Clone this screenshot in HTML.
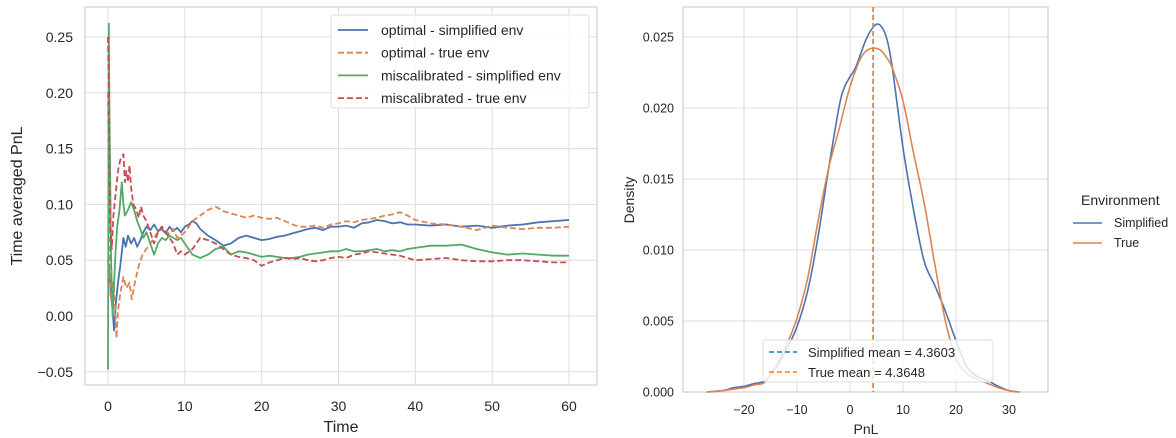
<!DOCTYPE html>
<html><head><meta charset="utf-8"><style>
body{margin:0;background:#fff;}
svg{display:block;font-family:"Liberation Sans",Arial,sans-serif;}
</style></head><body>
<svg id="c" width="1176" height="438" viewBox="0 0 1176 438"></svg>
<script>
// ---- Left chart data ----
const blueT=[0,0.2,0.4,0.6,0.8,1.0,1.3,1.6,2.0,2.3,2.6,3.0,3.4,3.8,4.2,4.6,5,5.5,6,6.5,7,7.5,8,8.5,9,9.5,10,10.5,11,11.5,12,13,14,15,16,17,18,19,20,21,22,23,24,25,26,27,28,29,30,31,32,33,34,35,36,37,38,39,40,42,44,46,48,50,52,54,56,58,60];
const blueV=[0.05,0.035,0.02,0.005,-0.013,0.01,0.03,0.045,0.07,0.062,0.072,0.065,0.07,0.062,0.068,0.075,0.08,0.077,0.082,0.076,0.078,0.074,0.08,0.076,0.079,0.075,0.08,0.082,0.085,0.083,0.078,0.072,0.068,0.063,0.065,0.07,0.072,0.07,0.068,0.069,0.071,0.072,0.074,0.076,0.078,0.079,0.077,0.08,0.08,0.081,0.079,0.083,0.084,0.086,0.085,0.083,0.084,0.082,0.082,0.081,0.082,0.08,0.081,0.079,0.081,0.082,0.084,0.085,0.086];
const orangeT=[0,0.1,0.3,0.5,0.7,0.9,1.1,1.3,1.6,2.0,2.4,2.8,3.1,3.5,4,4.5,5,5.5,6,6.5,7,7.5,8,8.5,9,9.5,10,11,12,13,14,15,16,17,18,19,20,21,22,23,24,25,26,27,28,29,30,31,32,33,34,35,36,37,38,39,40,42,44,46,48,50,52,54,56,58,60];
const orangeV=[0.2,0.12,0.02,0.012,0.03,0.01,-0.02,0.005,0.02,0.035,0.025,0.03,0.015,0.03,0.045,0.055,0.06,0.065,0.07,0.075,0.08,0.077,0.073,0.078,0.07,0.072,0.075,0.085,0.09,0.095,0.098,0.094,0.092,0.09,0.088,0.09,0.088,0.087,0.088,0.085,0.082,0.08,0.08,0.081,0.079,0.082,0.083,0.085,0.084,0.086,0.087,0.088,0.09,0.091,0.093,0.09,0.086,0.083,0.082,0.08,0.077,0.081,0.079,0.078,0.079,0.079,0.08];
const greenT=[0,0.1,0.2,0.4,0.6,0.8,1.0,1.2,1.5,1.8,2.0,2.2,2.6,3.0,3.4,3.8,4.2,4.6,5,5.5,6,6.5,7,7.5,8,8.5,9,9.5,10,11,12,13,14,15,16,17,18,19,20,21,22,23,24,25,26,27,28,29,30,31,32,33,34,35,36,37,38,39,40,42,44,46,48,50,52,54,56,58,60];
const greenV=[-0.048,0.262,0.18,0.05,0.0,0.03,0.06,0.08,0.095,0.12,0.1,0.09,0.095,0.102,0.095,0.085,0.078,0.07,0.075,0.065,0.055,0.065,0.07,0.068,0.072,0.07,0.068,0.07,0.065,0.055,0.052,0.055,0.06,0.062,0.055,0.058,0.057,0.055,0.053,0.054,0.053,0.052,0.052,0.053,0.055,0.056,0.057,0.058,0.058,0.06,0.058,0.058,0.059,0.06,0.058,0.059,0.058,0.06,0.061,0.063,0.063,0.064,0.06,0.057,0.055,0.056,0.055,0.054,0.054];
const redT=[0,0.1,0.2,0.3,0.5,0.7,1.0,1.3,1.6,2.0,2.2,2.4,2.6,2.8,3.0,3.3,3.7,4.0,4.3,4.6,5,5.5,6,6.5,7,7.5,8,8.5,9,9.5,10,11,12,13,14,15,16,17,18,19,20,21,22,23,24,25,26,27,28,29,30,31,32,33,34,35,36,37,38,39,40,42,44,46,48,50,52,54,56,58,60];
const redV=[0.25,0.2,0.13,0.08,0.06,0.09,0.11,0.13,0.14,0.145,0.12,0.13,0.12,0.135,0.115,0.1,0.095,0.088,0.098,0.09,0.085,0.075,0.065,0.075,0.08,0.075,0.07,0.065,0.055,0.058,0.055,0.06,0.07,0.068,0.065,0.06,0.055,0.053,0.052,0.05,0.045,0.048,0.05,0.052,0.051,0.052,0.05,0.049,0.05,0.052,0.053,0.052,0.055,0.056,0.058,0.057,0.056,0.055,0.054,0.052,0.05,0.051,0.052,0.05,0.049,0.049,0.05,0.05,0.049,0.048,0.048];
const leftXTicks=[0,10,20,30,40,50,60];
const leftYTicks=[-0.05,0,0.05,0.10,0.15,0.20,0.25];
const leftYLabels=["\u22120.05","0.00","0.05","0.10","0.15","0.20","0.25"];
const leftLegend=["optimal - simplified env","optimal - true env","miscalibrated - simplified env","miscalibrated - true env"];
// ---- Right chart data ----
const kdeX=[-27,-24,-22,-20,-18,-16,-14,-12,-10,-8,-6,-4,-2,-1,0,1,2,3,4,5,6,7,8,10,12,14,16,18,20,22,24,26,28,30,32];
const simpVals=[0,0.0001,0.0003,0.0004,0.0006,0.0008,0.0017,0.003,0.0046,0.0071,0.011,0.0158,0.0202,0.0215,0.0222,0.0228,0.0238,0.0248,0.0255,0.0259,0.0257,0.0248,0.0228,0.0172,0.0128,0.0092,0.0075,0.0057,0.0036,0.0018,0.0011,0.0008,0.0004,0.0001,0];
const trueVals=[0,0.0001,0.0002,0.0003,0.0005,0.0007,0.0018,0.0033,0.0052,0.008,0.0121,0.0158,0.0186,0.0201,0.0215,0.0226,0.0235,0.024,0.0242,0.0242,0.024,0.0235,0.0228,0.0205,0.0168,0.0133,0.009,0.005,0.0024,0.0013,0.0009,0.0006,0.0003,0.0001,0];
const rightXTicks=[-20,-10,0,10,20,30];
const rightYTicks=[0,0.005,0.010,0.015,0.020,0.025];
const meanSimp=4.3603, meanTrue=4.3648;

const svg=document.getElementById('c');
const NS='http://www.w3.org/2000/svg';
function mk(tag,attrs,parent){const e=document.createElementNS(NS,tag);for(const k in attrs)e.setAttribute(k,attrs[k]);(parent||svg).appendChild(e);return e;}
function txt(s,attrs,parent){const e=mk('text',attrs,parent);e.textContent=s;return e;}

// Left axes
const L={x0:85,x1:597,y0:7,y1:385};
const lx=v=>108+v*(569-108)/60;
const ly=v=>316-v*(316-37)/0.25;
const gL=mk('g',{});


leftXTicks.forEach(t=>{
  const l=mk('line',{x1:lx(t),x2:lx(t),y1:L.y0,y2:L.y1,stroke:'#dcdcdc','stroke-width':1},gL);
  
  const tx=txt(String(t),{x:lx(t),y:411,'text-anchor':'middle','font-size':14,fill:'#262626'},gL);
  
});
leftYTicks.forEach((t,i)=>{
  const l=mk('line',{x1:L.x0,x2:L.x1,y1:ly(t),y2:ly(t),stroke:'#dcdcdc','stroke-width':1},gL);
  
  const tx=txt(leftYLabels[i],{x:73,y:ly(t)+5,'text-anchor':'end','font-size':14,fill:'#262626'},gL);
  
});
const fL=mk('rect',{x:L.x0,y:L.y0,width:L.x1-L.x0,height:L.y1-L.y0,fill:'none',stroke:'#cfcfcf','stroke-width':1.2},gL);

const xt=txt('Time',{x:341,y:432,'text-anchor':'middle','font-size':16,fill:'#262626'},gL);

const yt=txt('Time averaged PnL',{x:0,y:0,transform:'translate(22,196) rotate(-90)','text-anchor':'middle','font-size':16,fill:'#262626'},gL);


const series=[
  {T:blueT,V:blueV,c:'#4c72b0',d:'',n:'line-optimal-simplified'},
  {T:orangeT,V:orangeV,c:'#dd8452',d:'6,3',n:'line-optimal-true'},
  {T:greenT,V:greenV,c:'#55a868',d:'',n:'line-miscalibrated-simplified'},
  {T:redT,V:redV,c:'#c44e52',d:'6,3',n:'line-miscalibrated-true'}];
series.forEach(s=>{
  const pts=s.T.map((t,i)=>lx(t).toFixed(1)+','+ly(s.V[i]).toFixed(1)).join(' ');
  const p=mk('polyline',{points:pts,fill:'none',stroke:s.c,'stroke-width':1.8,'stroke-dasharray':s.d,'stroke-linejoin':'round'},gL);
  
});
// left legend
const lg=mk('g',{},gL);

mk('rect',{x:331,y:15,width:258,height:93,rx:3,fill:'#fff','fill-opacity':0.85,stroke:'#dcdcdc'},lg);
series.forEach((s,i)=>{
  const y=30+i*22.7;
  const g=mk('g',{},lg);
  
  mk('line',{x1:338,x2:368,y1:y,y2:y,stroke:s.c,'stroke-width':1.8,'stroke-dasharray':s.d},g);
  txt(leftLegend[i],{x:381,y:y+5,'font-size':14,fill:'#262626'},g);
});

// Right axes
const R={x0:683,x1:1048,y0:7,y1:392};
const rx=v=>850+v*5.3;
const ry=v=>392-v*(392-37)/0.025;
const gR=mk('g',{});


rightXTicks.forEach(t=>{
  const l=mk('line',{x1:rx(t),x2:rx(t),y1:R.y0,y2:R.y1,stroke:'#dcdcdc','stroke-width':1},gR);
  
  const tx=txt(t<0?'\u2212'+(-t):String(t),{x:rx(t),y:414,'text-anchor':'middle','font-size':12.5,fill:'#262626'},gR);
  
});
rightYTicks.forEach(t=>{
  const l=mk('line',{x1:R.x0,x2:R.x1,y1:ry(t),y2:ry(t),stroke:'#dcdcdc','stroke-width':1},gR);
  
  const tx=txt(t.toFixed(3),{x:674,y:ry(t)+4.5,'text-anchor':'end','font-size':12.5,fill:'#262626'},gR);
  
});
const fR=mk('rect',{x:R.x0,y:R.y0,width:R.x1-R.x0,height:R.y1-R.y0,fill:'none',stroke:'#cfcfcf','stroke-width':1.2},gR);

const xt2=txt('PnL',{x:866,y:434,'text-anchor':'middle','font-size':14,fill:'#262626'},gR);

const yt2=txt('Density',{x:0,y:0,transform:'translate(634,200) rotate(-90)','text-anchor':'middle','font-size':14,fill:'#262626'},gR);


function smooth(xs,ys){
  const P=xs.map((x,i)=>[rx(x),ry(ys[i])]);
  let d='M'+P[0][0].toFixed(1)+','+P[0][1].toFixed(1);
  for(let i=0;i<P.length-1;i++){
    const p0=P[Math.max(i-1,0)],p1=P[i],p2=P[i+1],p3=P[Math.min(i+2,P.length-1)];
    const c1=[p1[0]+(p2[0]-p0[0])/6,p1[1]+(p2[1]-p0[1])/6];
    const c2=[p2[0]-(p3[0]-p1[0])/6,p2[1]-(p3[1]-p1[1])/6];
    d+=' C'+c1.map(v=>v.toFixed(1))+' '+c2.map(v=>v.toFixed(1))+' '+p2.map(v=>v.toFixed(1));
  }
  return d;
}
const ps=mk('path',{d:smooth(kdeX,simpVals),fill:'none',stroke:'#4c72b0','stroke-width':1.6},gR);

const pt=mk('path',{d:smooth(kdeX,trueVals),fill:'none',stroke:'#dd8452','stroke-width':1.6},gR);

const m1=mk('line',{x1:rx(meanSimp),x2:rx(meanSimp),y1:R.y0,y2:R.y1,stroke:'#1f77b4','stroke-width':1.5,'stroke-dasharray':'5,3'},gR);

const m2=mk('line',{x1:rx(meanTrue),x2:rx(meanTrue),y1:R.y0,y2:R.y1,stroke:'#ff7f0e','stroke-width':1.5,'stroke-dasharray':'5,3'},gR);

// mean legend
const ml=mk('g',{},gR);

mk('rect',{x:763,y:340,width:230,height:42,rx:3,fill:'#fff','fill-opacity':0.8,stroke:'#dcdcdc'},ml);
mk('line',{x1:769,x2:797,y1:352,y2:352,stroke:'#1f77b4','stroke-width':1.5,'stroke-dasharray':'5,3'},ml);
txt('Simplified mean = 4.3603',{x:808,y:357,'font-size':13,fill:'#262626'},ml);
mk('line',{x1:769,x2:797,y1:372,y2:372,stroke:'#ff7f0e','stroke-width':1.5,'stroke-dasharray':'5,3'},ml);
txt('True mean = 4.3648',{x:808,y:377,'font-size':13,fill:'#262626'},ml);
// environment legend
const el=mk('g',{});

txt('Environment',{x:1081,y:205,'font-size':14,fill:'#262626'},el);
mk('line',{x1:1073,x2:1102,y1:223,y2:223,stroke:'#4c72b0','stroke-width':1.6},el);
txt('Simplified',{x:1114,y:227,'font-size':12.5,fill:'#262626'},el);
mk('line',{x1:1073,x2:1102,y1:243,y2:243,stroke:'#dd8452','stroke-width':1.6},el);
txt('True',{x:1114,y:247,'font-size':12.5,fill:'#262626'},el);
</script>
</body></html>
